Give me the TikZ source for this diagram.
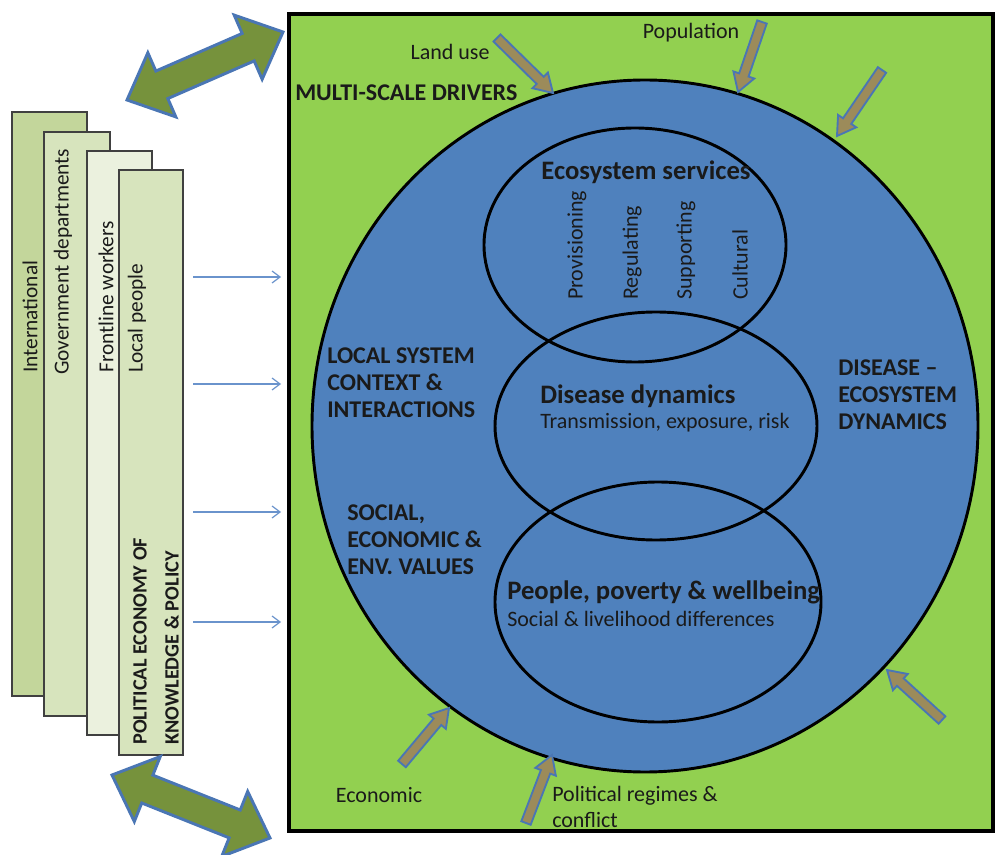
\documentclass[tikz,border=0pt]{standalone}
\usepackage{fontspec}
\setmainfont{Carlito}
\usetikzlibrary{calc,arrows.meta}
\definecolor{bggreen}{HTML}{92D050}
\definecolor{circblue}{HTML}{4F81BD}
\definecolor{olivefill}{HTML}{76923C}
\definecolor{tanfill}{HTML}{9C8B5A}
\definecolor{edgeblue}{HTML}{4A76B4}
\definecolor{thinblue}{HTML}{6A93CC}
\definecolor{txtdark}{HTML}{1A1A1A}
\definecolor{boxA}{HTML}{C3D69B}
\definecolor{boxB}{HTML}{D7E4BD}
\definecolor{boxC}{HTML}{EBF1DE}
\definecolor{boxD}{HTML}{D7E4BD}
\definecolor{boxedge}{HTML}{404040}
\tikzset{
  lbl/.style={font=\fontsize{16.5}{19}\selectfont, text=txtdark, inner sep=0pt},
  panellbl/.style={font=\fontsize{16}{19}\selectfont, text=txtdark, inner sep=0pt, rotate=90, anchor=west},
  capsb/.style={font=\fontsize{18}{20.25}\selectfont\bfseries, text=txtdark, inner sep=0pt, align=left},
  headb/.style={font=\fontsize{20}{24}\selectfont\bfseries, text=txtdark, inner sep=0pt},
  panelbox/.style={draw=boxedge, line width=1.1pt},
  tanarrowstyle/.style={fill=tanfill, draw=edgeblue, line width=1.4pt, line join=miter},
  dblstyle/.style={fill=olivefill, draw=edgeblue, line width=2.2pt, line join=miter},
  thinarrow/.style={draw=thinblue, line width=0.9pt, -{Straight Barb[length=6pt,width=9pt]}},
  ringline/.style={draw=black, line width=2.2pt},
}
\newcommand\tanarrow[2]{%
  \coordinate (tmpn) at ($(#2)!13.5pt!(#1)$);
  \draw[tanarrowstyle] ($(#1)!3.75pt!90:(#2)$) -- ($(tmpn)!3.75pt!-90:(#1)$) -- ($(tmpn)!8.25pt!-90:(#1)$) -- (#2) -- ($(tmpn)!8.25pt!90:(#1)$) -- ($(tmpn)!3.75pt!90:(#1)$) -- ($(#1)!3.75pt!-90:(#2)$) -- cycle;
}
\newcommand\dblarrow[2]{%
  \coordinate (dnA) at ($(#1)!28.5pt!(#2)$);
  \coordinate (dnB) at ($(#2)!28.5pt!(#1)$);
  \draw[dblstyle] (#1) -- ($(dnA)!26.25pt!90:(#2)$) -- ($(dnA)!11.25pt!90:(#2)$) -- ($(dnB)!11.25pt!-90:(#1)$) -- ($(dnB)!26.25pt!-90:(#1)$) -- (#2) -- ($(dnB)!26.25pt!90:(#1)$) -- ($(dnB)!11.25pt!90:(#1)$) -- ($(dnA)!11.25pt!-90:(#2)$) -- ($(dnA)!26.25pt!-90:(#2)$) -- cycle;
}
\begin{document}
\begin{tikzpicture}[x=0.75pt,y=-0.75pt]
\useasboundingbox (0,0) rectangle (996,855);
\fill[white] (0,0) rectangle (996,855);

% main green panel
\draw[fill=bggreen, draw=black, line width=3pt] (289,14) rectangle (993,831);

% big circle
\draw[ringline, fill=circblue] (645,426) ellipse [x radius=333, y radius=346];

% inner ellipses
\draw[ringline] (635,245) ellipse [x radius=151, y radius=117];
\draw[ringline] (656,426) ellipse [x radius=161, y radius=114];
\draw[ringline] (658,602) ellipse [x radius=163, y radius=120];

% left panels
\draw[panelbox, fill=boxA] (12,112) rectangle (87,696);
\draw[panelbox, fill=boxB] (44,132) rectangle (110,716);
\draw[panelbox, fill=boxC] (87,151) rectangle (152,735);
\draw[panelbox, fill=boxD] (119,170) rectangle (183,755);

\node[panellbl] (intl) at (30,373) {International};
\node[panellbl] (govt) at (63,375) {Government departments};
\node[panellbl] (front) at (106,373) {Frontline workers};
\node[panellbl] (local) at (137,373) {Local people};
\node[capsb, rotate=90, anchor=west, font=\fontsize{15.2}{24}\selectfont\bfseries] (polecon) at (156,745) {POLITICAL ECONOMY OF\\KNOWLEDGE \& POLICY};

% thin arrows from panel to box
\coordinate (la1) at (193,277); \coordinate (lb1) at (281,277);
\coordinate (la2) at (193,384); \coordinate (lb2) at (281,384);
\coordinate (la3) at (193,512); \coordinate (lb3) at (281,512);
\coordinate (la4) at (193,622); \coordinate (lb4) at (281,622);
\draw[thinarrow] (la1) -- (lb1);
\draw[thinarrow] (la2) -- (lb2);
\draw[thinarrow] (la3) -- (lb3);
\draw[thinarrow] (la4) -- (lb4);

% double arrows
\coordinate (dtA) at (127,100); \coordinate (dtB) at (283,32);
\coordinate (dbA) at (112,775); \coordinate (dbB) at (270,838);
\dblarrow{dtA}{dtB}
\dblarrow{dbA}{dbB}

% driver arrows
\coordinate (t1) at (497,38);  \coordinate (p1) at (553,93);
\coordinate (t2) at (762,22);  \coordinate (p2) at (738,92);
\coordinate (t3) at (882,70);  \coordinate (p3) at (837,136);
\coordinate (t4) at (402,764); \coordinate (p4) at (449,708);
\coordinate (t5) at (526,823); \coordinate (p5) at (552,755);
\coordinate (t6) at (942,720); \coordinate (p6) at (887,670);
\tanarrow{t1}{p1}
\tanarrow{t2}{p2}
\tanarrow{t3}{p3}
\tanarrow{t4}{p4}
\tanarrow{t5}{p5}
\tanarrow{t6}{p6}

% driver labels
\node[lbl] (landuse) at (450,52) {Land use};
\node[lbl] (popul) at (691,33) {Population};
\node[capsb, anchor=west] (msd) at (295,93) {MULTI-SCALE  DRIVERS};
\node[lbl] (econ) at (379,795) {Economic};
\node[lbl, anchor=west, align=left, font=\fontsize{16.5}{19}\selectfont] (polreg) at (552,807) {Political regimes \&\\conflict};

% inner texts
\node[headb] (ecoserv) at (646,172) {Ecosystem services};
\node[lbl, rotate=90, anchor=west] (prov) at (577,300) {Provisioning};
\node[lbl, rotate=90, anchor=west] (regu) at (632,300) {Regulating};
\node[lbl, rotate=90, anchor=west] (supp) at (686,300) {Supporting};
\node[lbl, rotate=90, anchor=west] (cult) at (740,300) {Cultural};

\node[headb, anchor=west] (disdyn) at (540,396) {Disease dynamics};
\node[lbl, anchor=west] (trans) at (540,423) {Transmission, exposure, risk};
\node[headb, anchor=west] (people) at (507,592) {People, poverty \& wellbeing};
\node[lbl, anchor=west] (social) at (507,619) {Social \& livelihood differences};

\node[capsb, anchor=west] (lsc) at (327,383) {LOCAL SYSTEM\\CONTEXT \&\\INTERACTIONS};
\node[capsb, anchor=west] (sev) at (347,540) {SOCIAL,\\ECONOMIC \&\\ENV. VALUES};
\node[capsb, anchor=west] (ded) at (838,395) {DISEASE --\\ECOSYSTEM\\DYNAMICS};
\end{tikzpicture}
\end{document}
